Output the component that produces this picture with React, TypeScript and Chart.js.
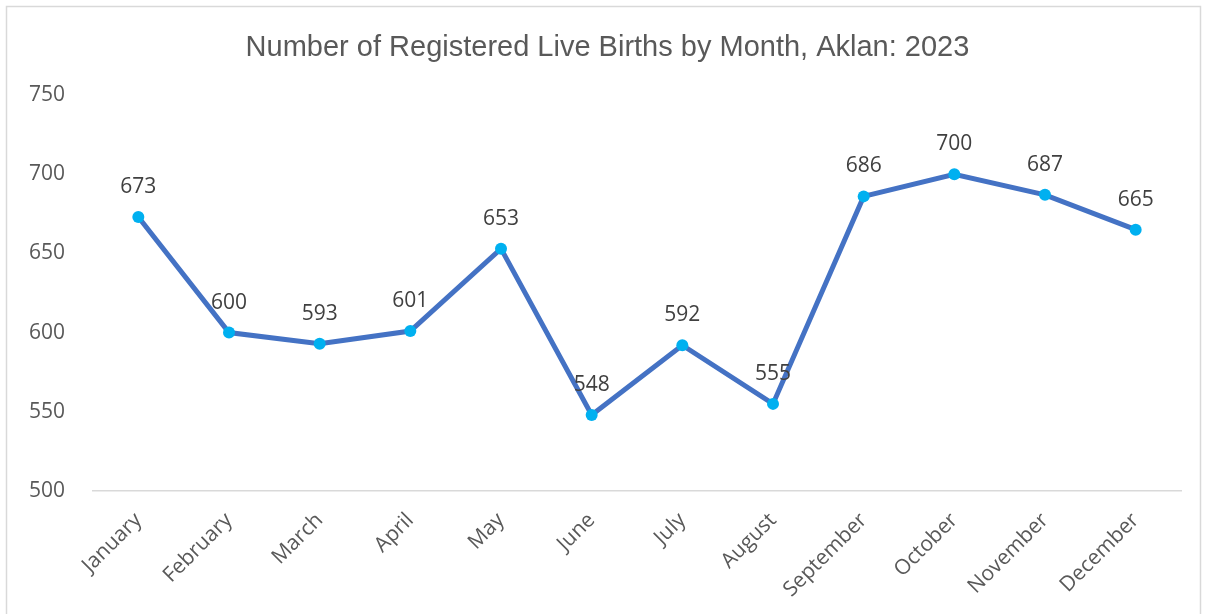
import React, { useEffect, useRef } from "react";
import { Chart, registerables } from "chart.js";

Chart.register(...registerables);

const TITLE = "Number of Registered Live Births by Month, Aklan: 2023";
const MONTHS = [
  "January", "February", "March", "April", "May", "June",
  "July", "August", "September", "October", "November", "December",
];
const BIRTHS = [673, 600, 593, 601, 653, 548, 592, 555, 686, 700, 687, 665];
const Y_MIN = 500;
const Y_MAX = 750;
const Y_STEP = 50;

const W = 1207;
const H = 614;

const framePlugin = {
  id: "frame",
  beforeDraw(chart: any) {
    const ctx = chart.ctx;
    ctx.save();
    ctx.fillStyle = "#ffffff";
    ctx.fillRect(0, 0, chart.width, chart.height);
    ctx.strokeStyle = "#d9d9d9";
    ctx.lineWidth = 1.5;
    ctx.strokeRect(6.5, 6.5, 1194, 640);
    ctx.fillStyle = "#595959";
    ctx.font = "29px 'Liberation Sans', Arial, sans-serif";
    ctx.textAlign = "center";
    ctx.textBaseline = "alphabetic";
    ctx.fillText(TITLE, 607.5, 56);
    ctx.restore();
  },
};

const labelPlugin = {
  id: "pointLabels",
  afterDatasetsDraw(chart: any) {
    const ctx = chart.ctx;
    const meta = chart.getDatasetMeta(0);
    const data = chart.data.datasets[0].data;
    ctx.save();
    ctx.fillStyle = "#404040";
    ctx.font = "21px 'Open Sans', sans-serif";
    ctx.textAlign = "center";
    ctx.textBaseline = "middle";
    meta.data.forEach((pt: any, i: number) => {
      ctx.fillText(String(data[i]), pt.x, pt.y - 30);
    });
    ctx.restore();
  },
};

export default function App() {
  const ref = useRef<HTMLCanvasElement | null>(null);

  useEffect(() => {
    document.body.style.margin = "0";
    const canvas = ref.current;
    if (!canvas) return;
    const chart = new Chart(canvas, {
      type: "line",
      data: {
        labels: MONTHS,
        datasets: [
          {
            data: BIRTHS,
            borderColor: "#4472C4",
            borderWidth: 5,
            pointBackgroundColor: "#00B0F0",
            pointBorderColor: "#00B0F0",
            pointRadius: 6,
            pointBorderWidth: 0,
            tension: 0,
          },
        ],
      },
      options: {
        animation: false,
        responsive: false,
        maintainAspectRatio: false,
        layout: { padding: { top: 95, right: 26, bottom: 0, left: 0 } },
        plugins: {
          legend: { display: false },
          title: { display: false },
          tooltip: { enabled: false },
        },
        scales: {
          x: {
            offset: true,
            grid: { display: false, drawTicks: false },
            border: { display: true, color: "#d9d9d9", width: 1.5 },
            ticks: {
              color: "#595959",
              font: { family: "'Open Sans', sans-serif", size: 21 },
              maxRotation: 45,
              minRotation: 45,
              padding: 17,
              autoSkip: false,
            },
            afterFit(s: any) {
              s.height = H - 491;
            },
          },
          y: {
            min: Y_MIN,
            max: Y_MAX,
            grid: { display: false, drawTicks: false },
            border: { display: false },
            ticks: {
              stepSize: Y_STEP,
              color: "#595959",
              font: { family: "'Open Sans', sans-serif", size: 21 },
              padding: 28,
            },
            afterFit(s: any) {
              s.width = 93;
            },
          },
        },
      },
      plugins: [framePlugin, labelPlugin],
    });
    return () => chart.destroy();
  }, []);

  return (
    <div style={{ width: W, height: H }}>
      <canvas ref={ref} width={W} height={H} style={{ display: "block", width: W, height: H }} />
    </div>
  );
}
